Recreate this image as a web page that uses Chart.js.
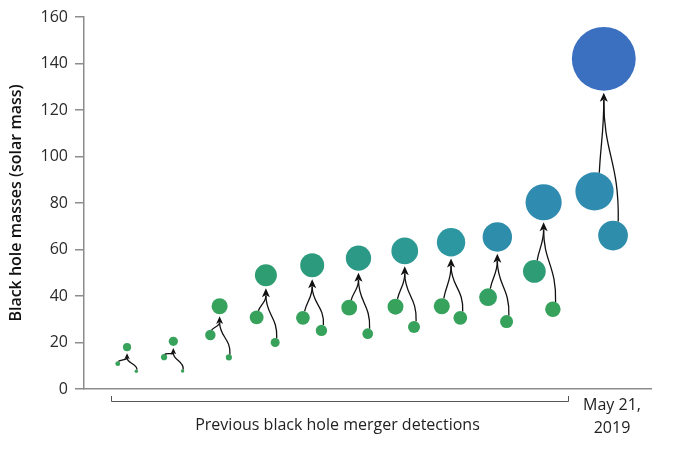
<!DOCTYPE html>
<html lang="en">
<head>
  <meta charset="UTF-8">
  <title>Black hole merger masses</title>
  <style>
    html, body { margin: 0; padding: 0; background: #ffffff; }
    #wrap { width: 680px; height: 450px; }
  </style>
  <script src="https://cdn.jsdelivr.net/npm/chart.js"></script>
</head>
<body>
  <div id="wrap"><canvas id="chart" width="680" height="450"></canvas></div>

  <script>
    // merger events, ordered by final mass (solar masses)
    const categories = ['GW170608', 'GW151226', 'GW151012', 'GW170104', 'GW170814', 'GW170809',
                        'GW170818', 'GW150914', 'GW170823', 'GW170729', 'GW190521'];
    const primaryMass   = [10.9, 13.7, 23.2, 30.8, 30.6, 35.0, 35.4, 35.6, 39.5, 50.6, 85];
    const secondaryMass = [7.6, 7.7, 13.6, 20.0, 25.2, 23.8, 26.7, 30.6, 29.0, 34.3, 66];
    const finalMass     = [18.0, 20.5, 35.6, 48.9, 53.2, 56.3, 59.4, 63.1, 65.4, 80.3, 142];
    const yTicks = [0, 20, 40, 60, 80, 100, 120, 140, 160];

    const yTitle = 'Black hole masses (solar mass)';
    const bracketLabel = 'Previous black hole merger detections';
    const dateLabel = ['May 21,', '2019'];

    const FONT = '"Open Sans", "DejaVu Sans", sans-serif';
    const AXIS_GREY = '#8c8c8c';
    const R_SCALE = 0.225;   // bubble radius in px per solar mass
    const SPREAD = 0.2;      // horizontal offset of the two merging holes
    const LAST_GAP = 0.3;    // extra room before the May 21, 2019 event

    function xOf(i) {
      return i + (i === categories.length - 1 ? LAST_GAP : 0);
    }

    // colour follows the mass: green -> teal -> blue
    const colorStops = [
      [0,   [58, 163, 90]],
      [36,  [54, 162, 92]],
      [50,  [46, 157, 116]],
      [56,  [43, 153, 133]],
      [63,  [45, 152, 160]],
      [65,  [46, 141, 170]],
      [85,  [47, 139, 176]],
      [142, [59, 112, 192]]
    ];
    function colorFor(m) {
      for (let i = 1; i < colorStops.length; i++) {
        const [m0, c0] = colorStops[i - 1];
        const [m1, c1] = colorStops[i];
        if (m <= m1) {
          const t = Math.max(0, (m - m0) / (m1 - m0));
          const c = c0.map((v, k) => Math.round(v + (c1[k] - v) * t));
          return `rgb(${c[0]},${c[1]},${c[2]})`;
        }
      }
      const c = colorStops[colorStops.length - 1][1];
      return `rgb(${c[0]},${c[1]},${c[2]})`;
    }

    function bubbles(masses, dx) {
      return masses.map((m, i) => ({ x: xOf(i) + dx, y: m, r: m * R_SCALE }));
    }

    const bubbleColor = ctx => colorFor(ctx.raw ? ctx.raw.y : 0);

    // big bubbles should not push the plot area inwards
    const Bubble = Chart.registry.getController('bubble');
    Bubble.prototype.getMaxOverflow = function () { return false; };

    // arrows from the two holes to the merged one, plus the bottom annotations
    const mergerArrows = {
      id: 'mergerArrows',
      afterDatasetsDraw(chart) {
        const { ctx, scales: { x, y } } = chart;
        ctx.save();
        ctx.strokeStyle = '#111';
        ctx.fillStyle = '#111';
        ctx.lineWidth = 1.3;

        categories.forEach((c, i) => {
          const mx = x.getPixelForValue(xOf(i));
          const my = y.getPixelForValue(finalMass[i]);
          const mr = finalMass[i] * R_SCALE;
          const head = Math.min(9, 4.5 + mr * 0.4);
          const tipY = my + mr + 2;
          const baseY = tipY + head * 0.8;

          // primary
          const px = x.getPixelForValue(xOf(i) - SPREAD);
          const py = y.getPixelForValue(primaryMass[i]);
          const pr = primaryMass[i] * R_SCALE;
          const p0 = { x: px + pr * 0.25, y: py - pr * 0.97 };
          const h1 = Math.max(p0.y - baseY, 4);
          ctx.beginPath();
          ctx.moveTo(p0.x, p0.y);
          ctx.bezierCurveTo(p0.x + (mx - p0.x) * 0.3, p0.y - h1 * 0.4, mx, baseY + h1 * 0.45, mx, baseY);
          ctx.stroke();

          // secondary
          const sx = x.getPixelForValue(xOf(i) + SPREAD);
          const sy = y.getPixelForValue(secondaryMass[i]);
          const sr = secondaryMass[i] * R_SCALE;
          const s0 = { x: sx + sr * 0.35, y: sy - sr * 0.94 };
          const h2 = Math.max(s0.y - baseY, 4);
          ctx.beginPath();
          ctx.moveTo(s0.x, s0.y);
          ctx.bezierCurveTo(s0.x + 1, s0.y - h2 * 0.5, mx, baseY + h2 * 0.45, mx, baseY);
          ctx.stroke();

          // arrow head
          ctx.beginPath();
          ctx.moveTo(mx, tipY);
          ctx.lineTo(mx + head * 0.45, tipY + head);
          ctx.lineTo(mx, tipY + head * 0.75);
          ctx.lineTo(mx - head * 0.45, tipY + head);
          ctx.closePath();
          ctx.fill();
        });

        // bracket under the earlier detections
        const bx0 = 111, bx1 = 568, by = 401;
        ctx.strokeStyle = '#555';
        ctx.lineWidth = 1;
        ctx.beginPath();
        ctx.moveTo(bx0 + 0.5, by - 5);
        ctx.lineTo(bx0 + 0.5, by + 0.5);
        ctx.lineTo(bx1 + 0.5, by + 0.5);
        ctx.lineTo(bx1 + 0.5, by - 5);
        ctx.stroke();

        ctx.fillStyle = '#222';
        ctx.font = `16px ${FONT}`;
        ctx.textAlign = 'center';
        ctx.textBaseline = 'middle';
        ctx.fillText(bracketLabel, (bx0 + bx1) / 2 - 2, 425);
        ctx.fillText(dateLabel[0], 612, 405);
        ctx.fillText(dateLabel[1], 612, 428);
        ctx.restore();
      }
    };

    new Chart(document.getElementById('chart'), {
      type: 'bubble',
      data: {
        datasets: [
          { label: 'merged', data: bubbles(finalMass, 0), backgroundColor: bubbleColor, borderWidth: 0 },
          { label: 'primary', data: bubbles(primaryMass, -SPREAD), backgroundColor: bubbleColor, borderWidth: 0 },
          { label: 'secondary', data: bubbles(secondaryMass, SPREAD), backgroundColor: bubbleColor, borderWidth: 0 }
        ]
      },
      options: {
        responsive: false,
        animation: false,
        devicePixelRatio: 1,
        clip: false,
        layout: { padding: { top: 17, right: 29, bottom: 61, left: 0 } },
        plugins: {
          legend: { display: false },
          tooltip: { enabled: false }
        },
        scales: {
          x: {
            type: 'linear',
            min: -0.93,
            max: 11.32,
            afterFit: axis => { axis.height = 0; },
            ticks: { display: false },
            grid: { display: false, drawTicks: false },
            border: { display: true, color: AXIS_GREY, width: 1.5 }
          },
          y: {
            min: 0,
            max: 160,
            afterBuildTicks: axis => { axis.ticks = yTicks.map(v => ({ value: v })); },
            afterFit: axis => { axis.width = 84; },
            ticks: {
              padding: 7,
              color: '#2a2a2a',
              font: { family: FONT, size: 16 }
            },
            grid: {
              drawOnChartArea: false,
              drawTicks: true,
              tickLength: 9,
              color: AXIS_GREY,
              lineWidth: 1.5
            },
            border: { color: AXIS_GREY, width: 1.5 },
            title: {
              display: true,
              text: yTitle,
              color: '#111',
              padding: { top: 7, bottom: 0 },
              font: { family: FONT, size: 16, weight: '600' }
            }
          }
        }
      },
      plugins: [mergerArrows]
    });
  </script>
</body>
</html>
